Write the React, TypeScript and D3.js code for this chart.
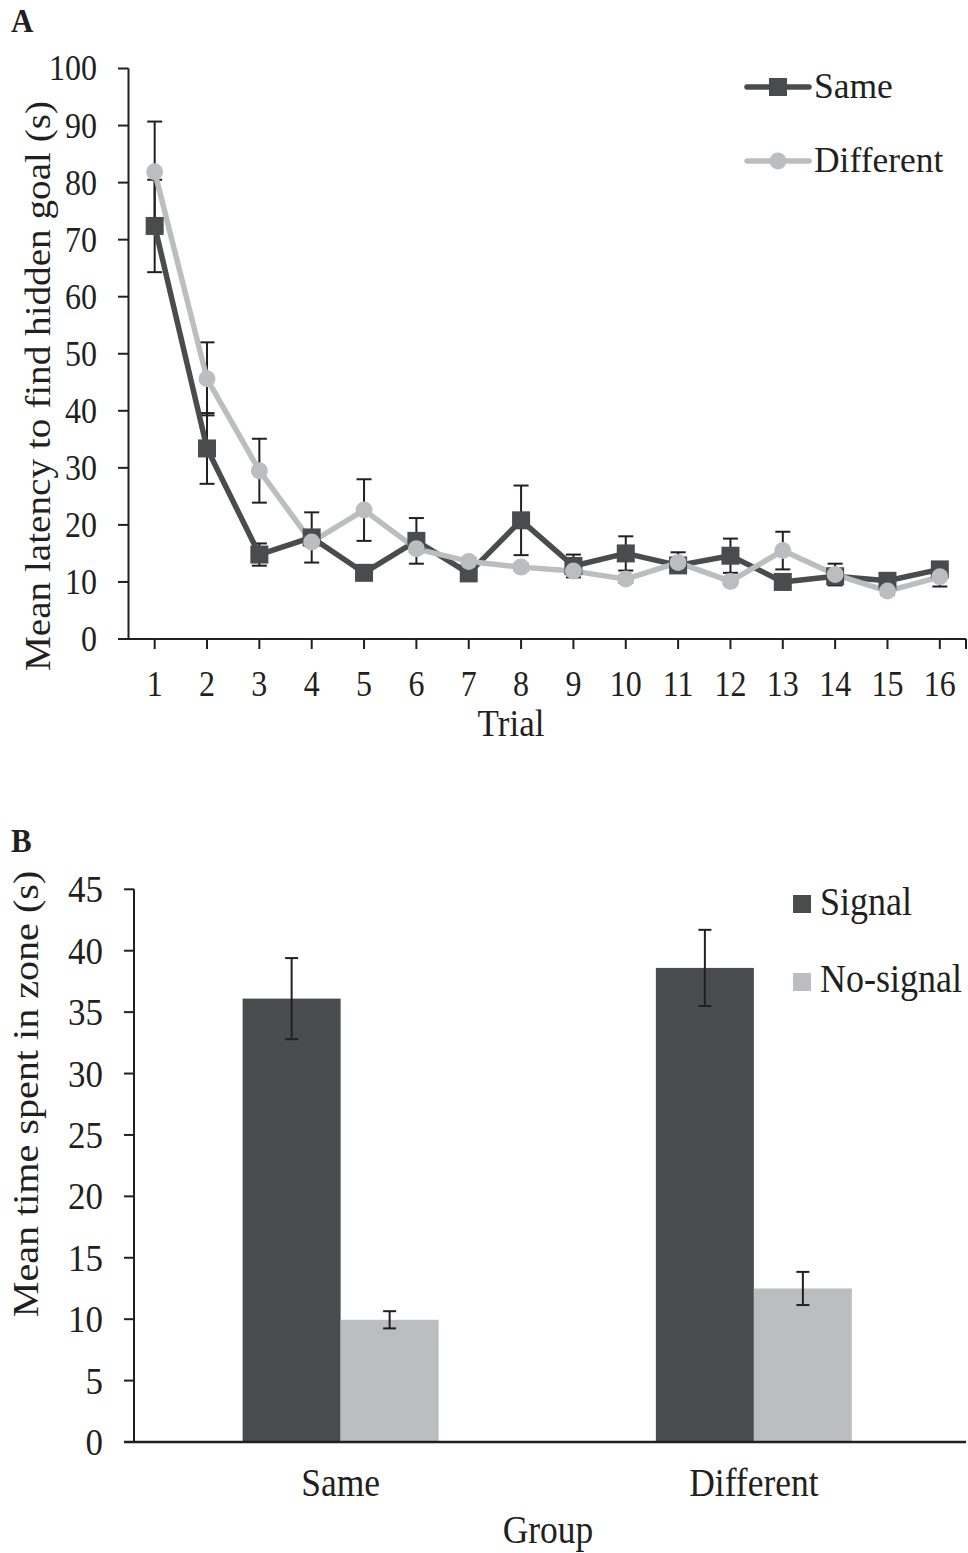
import React from "react";
import * as d3 from "d3";

// ---- Panel A data ----
const trials = [1, 2, 3, 4, 5, 6, 7, 8, 9, 10, 11, 12, 13, 14, 15, 16];
const sameMeans = [72.4, 33.4, 14.8, 17.8, 11.6, 17.2, 11.5, 20.8, 12.8, 15.0, 12.9, 14.6, 10.0, 11.0, 10.2, 12.2];
const sameSE = [8.1, 6.2, 1.95, 4.4, 0.6, 4.0, 0.6, 6.1, 2.0, 3.0, 0.6, 3.0, 0.6, 0.6, 0.6, 0.6];
const diffMeans = [81.9, 45.6, 29.5, 17.0, 22.6, 15.8, 13.6, 12.6, 11.9, 10.5, 13.4, 10.1, 15.5, 11.3, 8.4, 10.9];
const diffSE = [8.8, 6.4, 5.6, 0.6, 5.4, 0.6, 0.6, 0.6, 0.6, 0.6, 1.8, 0.6, 3.3, 1.9, 0.6, 1.7];
const yTicksA = [0, 10, 20, 30, 40, 50, 60, 70, 80, 90, 100];

// ---- Panel B data ----
const groups = ["Same", "Different"];
const conditions = ["Signal", "No-signal"];
const signalMeans = [36.1, 38.6];
const signalSE = [3.3, 3.1];
const noSignalMeans = [9.95, 12.5];
const noSignalSE = [0.7, 1.35];
const yTicksB = [0, 5, 10, 15, 20, 25, 30, 35, 40, 45];

const DARK = "#4a4b4d";
const LIGHT = "#bcbdc0";
const INK = "#231f20";
const FONT = "'Liberation Serif', 'Times New Roman', serif";
const SY = 1.1;

function T(props: any) {
  const { x, y, sy = SY, children, ...rest } = props;
  return (
    <text transform={`translate(${x},${y}) scale(1,${sy})`} fill={INK} {...rest}>
      {children}
    </text>
  );
}

export default function App() {
  const W = 968;
  const H = 1553;

  // Panel A scales
  const xA = d3.scaleBand<number>().domain(trials).range([128.5, 966]).padding(0);
  const cx = (t: number) => (xA(t) as number) + xA.bandwidth() / 2;
  const yA = d3.scaleLinear().domain([0, 100]).range([639, 68.5]);

  const lineGen = d3
    .line<number>()
    .x((_, i) => cx(trials[i]))
    .y((d) => yA(d));

  const capW = 7.5;

  // Panel B scales
  const xB = d3.scaleBand<string>().domain(groups).range([134, 960.5]).padding(0);
  const groupW = 196;
  const xInner = d3.scaleBand<string>().domain(conditions).range([0, groupW]).padding(0);
  const yB = d3.scaleLinear().domain([0, 45]).range([1442, 889.3]);
  const barSeries = [
    { name: "Signal", means: signalMeans, se: signalSE, color: DARK },
    { name: "No-signal", means: noSignalMeans, se: noSignalSE, color: LIGHT },
  ];

  const seriesA = [
    { name: "Same", means: sameMeans, se: sameSE, color: DARK, marker: "square" },
    { name: "Different", means: diffMeans, se: diffSE, color: LIGHT, marker: "circle" },
  ];

  return (
    <svg width={W} height={H} style={{ display: "block", position: "absolute", left: 0, top: 0, background: "#fff" }} fontFamily={FONT}>
      <rect x={0} y={0} width={W} height={H} fill="#fff" />
      {/* ================= Panel A ================= */}
      <T x={11} y={32} fontSize={31} fontWeight="bold">A</T>

      {/* y axis */}
      <line x1={128.5} x2={128.5} y1={yA(100)} y2={yA(0)} stroke={INK} strokeWidth={2} />
      {yTicksA.map((t) => (
        <g key={"ya" + t}>
          <line x1={118} x2={128.5} y1={yA(t)} y2={yA(t)} stroke={INK} strokeWidth={2} />
          <T x={97} y={yA(t)} dy="0.34em" textAnchor="end" fontSize={32}>{t}</T>
        </g>
      ))}
      <text transform={`translate(38,386) rotate(-90) scale(1.12,1)`} textAnchor="middle" dominantBaseline="central" fontSize={35} fill={INK}>
        Mean latency to find hidden goal (s)
      </text>

      {/* x axis */}
      <line x1={118} x2={966} y1={yA(0)} y2={yA(0)} stroke={INK} strokeWidth={2} />
      {trials.map((t) => (
        <g key={"xa" + t}>
          <line x1={cx(t)} x2={cx(t)} y1={yA(0)} y2={yA(0) + 10} stroke={INK} strokeWidth={2} />
          <T x={cx(t)} y={696} textAnchor="middle" fontSize={32}>{t}</T>
        </g>
      ))}
      <line x1={966} x2={966} y1={yA(0)} y2={yA(0) + 10} stroke={INK} strokeWidth={2} />
      <T x={511} y={736} textAnchor="middle" fontSize={35}>Trial</T>

      {/* error bars */}
      {seriesA.map((s) =>
        s.means.map((m, i) => {
          const x = cx(trials[i]);
          const yt = yA(m + s.se[i]);
          const yb = yA(m - s.se[i]);
          return (
            <g key={s.name + "eb" + i} stroke={INK} strokeWidth={2}>
              <line x1={x} x2={x} y1={yt} y2={yb} />
              <line x1={x - capW} x2={x + capW} y1={yt} y2={yt} />
              <line x1={x - capW} x2={x + capW} y1={yb} y2={yb} />
            </g>
          );
        })
      )}

      {/* lines */}
      {seriesA.map((s) => (
        <path key={s.name + "line"} d={lineGen(s.means) || ""} fill="none" stroke={s.color} strokeWidth={5.5} strokeLinejoin="round" />
      ))}
      {/* markers */}
      {seriesA.map((s) =>
        s.means.map((m, i) =>
          s.marker === "square" ? (
            <rect key={s.name + "mk" + i} x={cx(trials[i]) - 9} y={yA(m) - 9} width={18} height={18} fill={s.color} />
          ) : (
            <circle key={s.name + "mk" + i} cx={cx(trials[i])} cy={yA(m)} r={8.5} fill={s.color} />
          )
        )
      )}

      {/* legend A */}
      <line x1={747} x2={809} y1={87} y2={87} stroke={DARK} strokeWidth={5.5} strokeLinecap="round" />
      <rect x={769} y={78} width={18} height={18} fill={DARK} />
      <T x={814} y={98} fontSize={35.5} sy={1.03}>Same</T>
      <line x1={747} x2={809} y1={161} y2={161} stroke={LIGHT} strokeWidth={5.5} strokeLinecap="round" />
      <circle cx={778} cy={161} r={8.5} fill={LIGHT} />
      <T x={814} y={172} fontSize={35.5} sy={1.03}>Different</T>

      {/* ================= Panel B ================= */}
      <T x={11} y={852} fontSize={31} fontWeight="bold">B</T>

      {/* bars */}
      {barSeries.map((s) =>
        s.means.map((m, i) => {
          const g0 = (xB(groups[i]) as number) + xB.bandwidth() / 2 - groupW / 2;
          const x0 = g0 + (xInner(s.name) as number);
          return (
            <rect key={s.name + "bar" + i} x={x0} y={yB(m)} width={xInner.bandwidth()} height={yB(0) - yB(m)} fill={s.color} />
          );
        })
      )}
      {/* bar error bars */}
      {barSeries.map((s) =>
        s.means.map((m, i) => {
          const g0 = (xB(groups[i]) as number) + xB.bandwidth() / 2 - groupW / 2;
          const x = g0 + (xInner(s.name) as number) + xInner.bandwidth() / 2;
          const yt = yB(m + s.se[i]);
          const yb = yB(m - s.se[i]);
          return (
            <g key={s.name + "beb" + i} stroke={INK} strokeWidth={2}>
              <line x1={x} x2={x} y1={yt} y2={yb} />
              <line x1={x - 6.5} x2={x + 6.5} y1={yt} y2={yt} />
              <line x1={x - 6.5} x2={x + 6.5} y1={yb} y2={yb} />
            </g>
          );
        })
      )}

      {/* y axis B */}
      <line x1={134} x2={134} y1={yB(45)} y2={yB(0)} stroke={INK} strokeWidth={2} />
      {yTicksB.map((t) => (
        <g key={"yb" + t}>
          <line x1={124} x2={134} y1={yB(t)} y2={yB(t)} stroke={INK} strokeWidth={2} />
          <T x={103} y={yB(t)} dy="0.34em" textAnchor="end" fontSize={35}>{t}</T>
        </g>
      ))}
      <text transform={`translate(26,1094) rotate(-90) scale(1.13,1)`} textAnchor="middle" dominantBaseline="central" fontSize={35.5} fill={INK}>
        Mean time spent in zone (s)
      </text>

      {/* x axis B */}
      <line x1={124} x2={966} y1={yB(0)} y2={yB(0)} stroke={INK} strokeWidth={2.5} />
      {groups.map((g) => (
        <T key={"xb" + g} x={(xB(g) as number) + xB.bandwidth() / 2} y={1496} textAnchor="middle" fontSize={35.5}>{g}</T>
      ))}
      <T x={548} y={1543} textAnchor="middle" fontSize={35.5}>Group</T>

      {/* legend B */}
      {barSeries.map((s, i) => (
        <g key={"lgB" + s.name}>
          <rect x={793} y={895 + i * 78} width={18} height={18} fill={s.color} />
          <T x={820} y={915 + i * 77} fontSize={36}>{s.name}</T>
        </g>
      ))}
    </svg>
  );
}
